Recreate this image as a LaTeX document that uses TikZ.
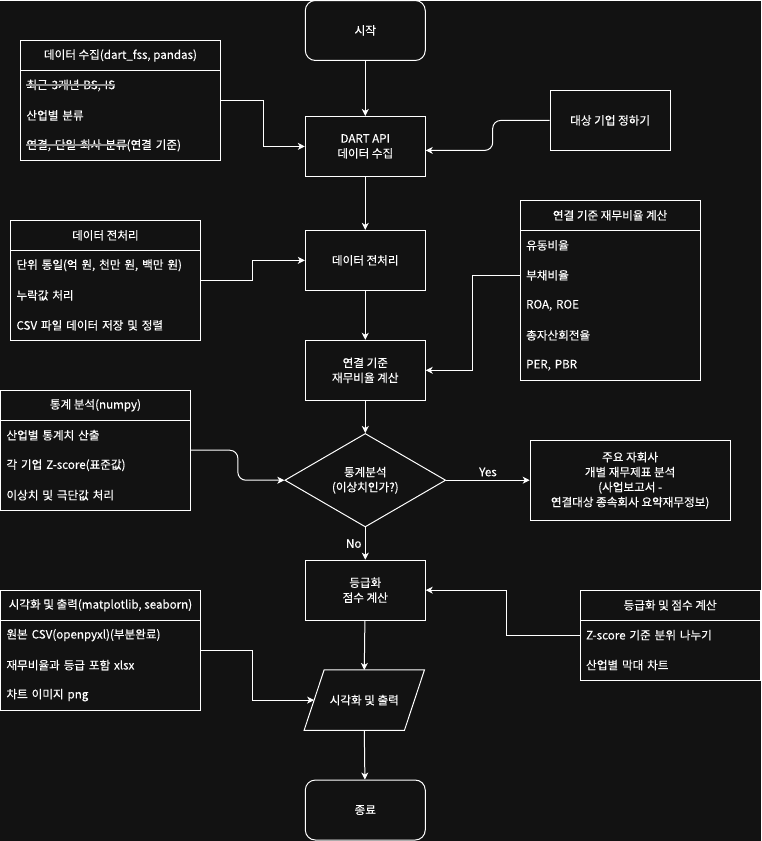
\documentclass[tikz,border=0pt]{standalone}
\usepackage{fontspec}
\setmainfont[FakeBold=0.3]{Noto Sans CJK KR}
\usetikzlibrary{positioning,fit,shapes.geometric,arrows.meta}
\definecolor{bgdark}{HTML}{121212}
\definecolor{strikegray}{HTML}{8C8C8C}
\newsavebox{\strikebox}
\newcommand{\graystrike}[1]{\sbox{\strikebox}{#1}\usebox{\strikebox}\llap{\textcolor{strikegray}{\rule[0.3em]{\wd\strikebox}{1.6pt}}}}
\tikzset{
  txt/.style={text=white, font=\fontsize{11.6}{15}\selectfont},
  base/.style={txt, draw=white, line width=1pt},
  procbox/.style={base, minimum width=120pt, minimum height=60pt, align=center},
  termbox/.style={procbox, rounded corners=10pt},
  listhead/.style={base, minimum width=#1, minimum height=30pt, outer sep=0pt},
  listrow/.style={txt, text width=#1, inner xsep=6pt, inner ysep=0pt, minimum height=30pt, align=left, outer sep=0pt},
  listframe/.style={draw=white, line width=1pt, inner sep=0pt},
  flow/.style={draw=white, line width=1pt, -{Stealth[length=7pt,width=7pt,inset=2pt]}},
}
\begin{document}
\begin{tikzpicture}[x=1pt, y=-1pt]
    % fondo
    \fill[bgdark] (0,0) rectangle (761,841);

    % main flow
    \node[termbox] (start) at (365,30) {시작};
    \node[procbox] (dart) at (365,146) {DART API\\데이터 수집};
    \node[procbox] (prep) at (365,260) {데이터 전처리};
    \node[procbox] (ratio) at (365,370) {연결 기준\\재무비율 계산};
    \node[base, diamond, minimum width=161pt, minimum height=79pt, inner sep=0pt, align=center] (check) at (365,480) {통계분석\\(이상치인가?)};
    \node[base, minimum width=200pt, minimum height=80pt, align=center] (sub) at (630,480) {주요 자회사\\개별 재무제표 분석\\(사업보고서 -\\연결대상 종속회사 요약재무정보)};
    \node[procbox] (grade) at (365,590) {등급화\\점수 계산};
    \node[txt, minimum width=100pt, minimum height=60pt, inner sep=0pt] (vis) at (364,700) {시각화 및 출력};
    \draw[white, line width=1pt] ([xshift=10pt]vis.north west) -- ([xshift=10pt]vis.north east)
        -- ([xshift=-10pt]vis.south east) -- ([xshift=-10pt]vis.south west) -- cycle;
    \node[termbox] (finish) at (365,810) {종료};

    % target company
    \node[base, minimum width=120pt, minimum height=60pt] (target) at (610,120) {대상 기업 정하기};

    % list: data collection
    \node[listhead=200pt] (collecthead) at (120,55) {데이터 수집(dart\_fss, pandas)};
    \node[listrow=188pt, below=0pt of collecthead] (collectrow1) {\graystrike{최근 3개년 BS, IS}};
    \node[listrow=188pt, below=0pt of collectrow1] (collectrow2) {산업별 분류};
    \node[listrow=188pt, below=0pt of collectrow2] (collectrow3) {\graystrike{연결, 단일 회사 분류}(연결 기준)};
    \node[listframe, fit=(collecthead)(collectrow3)] (collectlist) {};

    % list: preprocessing
    \node[listhead=190pt] (prephead) at (105,235) {데이터 전처리};
    \node[listrow=178pt, below=0pt of prephead] (preprow1) {단위 통일(억 원, 천만 원, 백만 원)};
    \node[listrow=178pt, below=0pt of preprow1] (preprow2) {누락값 처리};
    \node[listrow=178pt, below=0pt of preprow2] (preprow3) {CSV 파일 데이터 저장 및 정렬};
    \node[listframe, fit=(prephead)(preprow3)] (preplist) {};

    % list: ratios
    \node[listhead=180pt] (ratiohead) at (610,215) {연결 기준 재무비율 계산};
    \node[listrow=168pt, below=0pt of ratiohead] (ratiorow1) {유동비율};
    \node[listrow=168pt, below=0pt of ratiorow1] (ratiorow2) {부채비율};
    \node[listrow=168pt, below=0pt of ratiorow2] (ratiorow3) {ROA, ROE};
    \node[listrow=168pt, below=0pt of ratiorow3] (ratiorow4) {총자산회전율};
    \node[listrow=168pt, below=0pt of ratiorow4] (ratiorow5) {PER, PBR};
    \node[listframe, fit=(ratiohead)(ratiorow5)] (ratiolist) {};

    % list: statistics
    \node[listhead=190pt] (stathead) at (95,405) {통계 분석(numpy)};
    \node[listrow=178pt, below=0pt of stathead] (statrow1) {산업별 통계치 산출};
    \node[listrow=178pt, below=0pt of statrow1] (statrow2) {각 기업 Z-score(표준값)};
    \node[listrow=178pt, below=0pt of statrow2] (statrow3) {이상치 및 극단값 처리};
    \node[listframe, fit=(stathead)(statrow3)] (statlist) {};

    % list: output
    \node[listhead=200pt] (vishead) at (100,605) {시각화 및 출력(matplotlib, seaborn)};
    \node[listrow=188pt, below=0pt of vishead] (visrow1) {원본 CSV(openpyxl)(부분완료)};
    \node[listrow=188pt, below=0pt of visrow1] (visrow2) {재무비율과 등급 포함 xlsx};
    \node[listrow=188pt, below=0pt of visrow2] (visrow3) {차트 이미지 png};
    \node[listframe, fit=(vishead)(visrow3)] (vislist) {};

    % list: grading
    \node[listhead=180pt] (gradehead) at (670,605) {등급화 및 점수 계산};
    \node[listrow=168pt, below=0pt of gradehead] (graderow1) {Z-score 기준 분위 나누기};
    \node[listrow=168pt, below=0pt of graderow1] (graderow2) {산업별 막대 차트};
    \node[listframe, fit=(gradehead)(graderow2)] (gradelist) {};

    % connectors
    \draw[flow] (start) -- (dart);
    \draw[flow] (collectlist.east) -- ++(43,0) |- (dart.west);
    \draw[flow, rounded corners=8pt] (target.west) -- ++(-57,0) |- ([yshift=-4pt]dart.east);
    \draw[flow] (dart) -- (prep);
    \draw[flow] (preplist.east) -- ++(52,0) |- (prep.west);
    \draw[flow] (prep) -- (ratio);
    \draw[flow] (ratiorow2.west) -- ++(-48,0) |- (ratio.east);
    \draw[flow] (ratio) -- (check);
    \draw[flow, rounded corners=8pt] (statlist.east) -- ++(47,0) |- (check.west);
    \draw[flow] (check.east) -- node[txt, above] {Yes} (sub.west);
    \draw[flow] (check.south) -- node[txt, left] {No} (grade.north);
    \draw[flow] (graderow1.west) -- ++(-74,0) |- (grade.east);
    \draw[flow] (grade) -- (vis.north);
    \draw[flow] (vislist.east) -- ++(52,0) |- (vis.west);
    \draw[flow] (vis.south) -- (finish);
\end{tikzpicture}
\end{document}
